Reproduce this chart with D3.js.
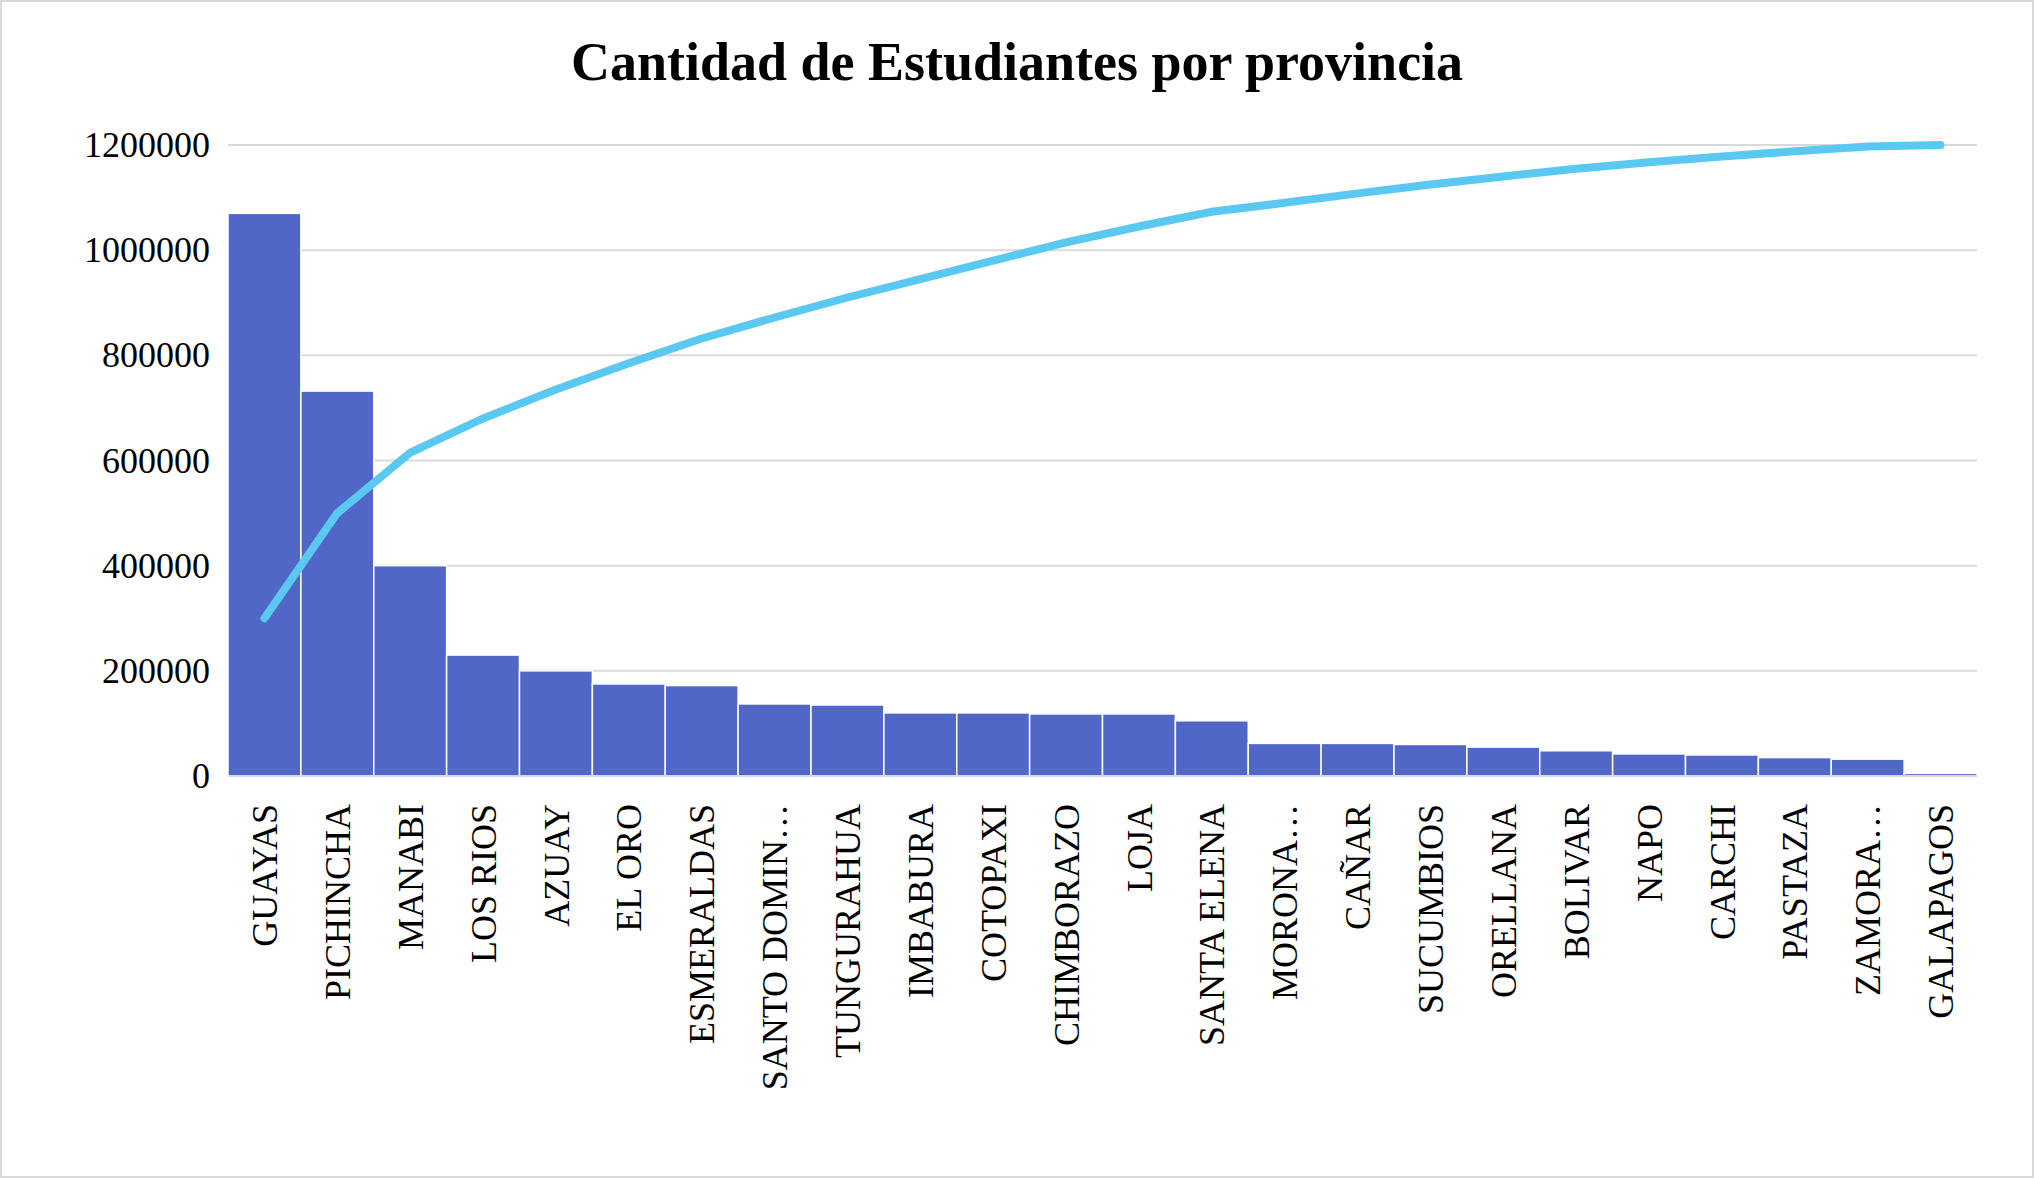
<!DOCTYPE html>
<html><head><meta charset="utf-8">
<script src="https://cdn.jsdelivr.net/npm/d3@7"></script>
<style>body{margin:0;background:#fff}</style></head>
<body><div id="chart"></div>
<script>
const provinces = ["GUAYAS","PICHINCHA","MANABI","LOS RIOS","AZUAY","EL ORO","ESMERALDAS","SANTO DOMIN…","TUNGURAHUA","IMBABURA","COTOPAXI","CHIMBORAZO","LOJA","SANTA ELENA","MORONA…","CAÑAR","SUCUMBIOS","ORELLANA","BOLIVAR","NAPO","CARCHI","PASTAZA","ZAMORA…","GALAPAGOS"];
const students = [1070000,732000,400000,230000,200000,175000,172000,137000,135000,120000,120000,118000,118000,105000,62000,62000,60000,55000,48000,42000,40000,35000,32000,5000];
const cumulative = [300000,500000,615000,680000,735000,785000,832000,872000,910000,945000,980000,1015000,1045000,1073000,1090000,1108000,1125000,1140000,1155000,1167000,1178000,1188000,1197000,1200000];
const yTicks = [0,200000,400000,600000,800000,1000000,1200000];

const width = 2034, height = 1178;
const margin = {left: 228, right: 57, top: 145, bottom: 402};
const font = "'Liberation Serif','Times New Roman',serif";

const svg = d3.select("#chart").append("svg").attr("width", width).attr("height", height);
svg.append("rect").attr("x",1).attr("y",1).attr("width",width-2).attr("height",height-2)
    .attr("fill","#fff").attr("stroke","#d9d9d9").attr("stroke-width",2);

const x = d3.scaleBand().domain(provinces).range([margin.left, width - margin.right]).padding(0);
const y = d3.scaleLinear().domain([0,1200000]).range([height - margin.bottom, margin.top]);

svg.append("text").attr("x", width/2).attr("y", 80).attr("text-anchor","middle")
    .attr("font-family", font).attr("font-weight","bold").attr("font-size",54)
    .text("Cantidad de Estudiantes por provincia");

// grid
svg.append("g").selectAll("line").data(yTicks).join("line")
    .attr("x1", margin.left).attr("x2", width - margin.right)
    .attr("y1", d => y(d)).attr("y2", d => y(d))
    .attr("stroke","#d9d9d9").attr("stroke-width",2);

const yAxis = svg.append("g").attr("transform",`translate(${margin.left},0)`)
    .call(d3.axisLeft(y).tickValues(yTicks).tickFormat(d3.format("d")).tickSize(0).tickPadding(18));
yAxis.select(".domain").remove();
yAxis.selectAll("text").attr("font-family", font).attr("font-size",36).attr("fill","#000");

svg.append("g").selectAll("rect").data(provinces).join("rect")
    .attr("x", d => x(d)).attr("width", x.bandwidth())
    .attr("y", (d,i) => y(students[i])).attr("height", (d,i) => y(0) - y(students[i]))
    .attr("fill","#5067c8").attr("stroke","#fff").attr("stroke-width",1.5);

svg.append("line").attr("x1",margin.left).attr("x2",width-margin.right)
    .attr("y1",y(0)).attr("y2",y(0)).attr("stroke","#d9d9d9").attr("stroke-width",2);

const xAxis = svg.append("g").attr("transform",`translate(0,${y(0)})`)
    .call(d3.axisBottom(x).tickSize(0));
xAxis.select(".domain").remove();
xAxis.selectAll("text").attr("font-family", font).attr("font-size",36).attr("fill","#000")
    .attr("transform","rotate(-90)").attr("text-anchor","end")
    .attr("x",-28).attr("y",0).attr("dy","0.35em");

const line = d3.line().x((d,i) => x(provinces[i]) + x.bandwidth()/2).y(d => y(d));
svg.append("path").datum(cumulative).attr("d", line)
    .attr("fill","none").attr("stroke","#5bc8f2").attr("stroke-width",8).attr("stroke-linecap","round");
</script></body></html>
